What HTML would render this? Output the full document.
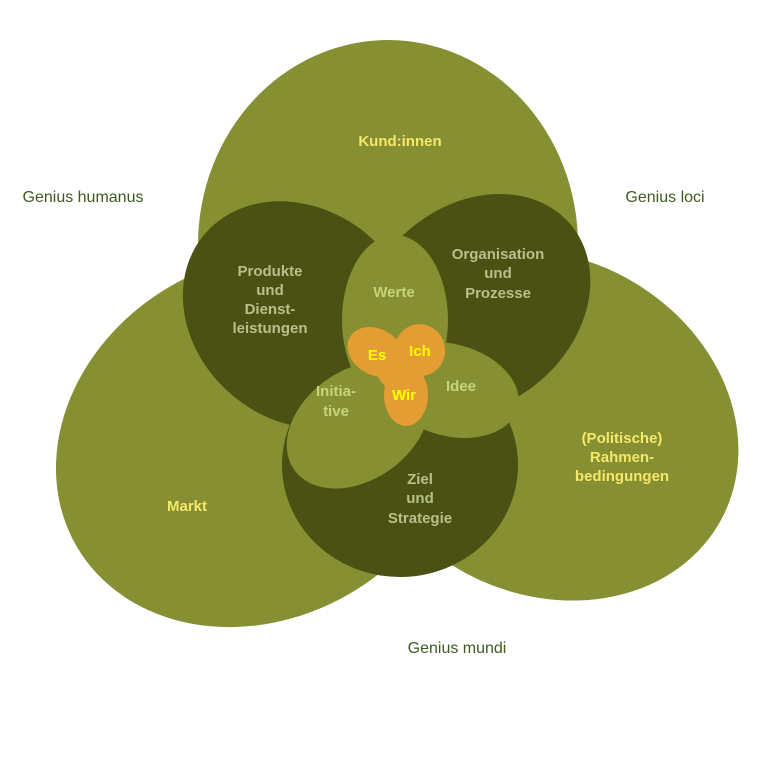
<!DOCTYPE html><html><head><style>body{margin:0;background:#fff}svg{display:block}text{font-family:"Liberation Sans",sans-serif;font-weight:bold;text-anchor:middle}</style></head><body>
<svg width="768" height="768" viewBox="0 0 768 768">
<g fill="#868f31">
<ellipse cx="388" cy="245" rx="190" ry="205"/>
<ellipse cx="260" cy="440" rx="212" ry="178" transform="rotate(-30 260 440)"/>
<ellipse cx="545" cy="425" rx="200" ry="168" transform="rotate(28 545 425)"/>
</g>
<g fill="#4a5113">
<ellipse cx="300" cy="315" rx="125" ry="105" transform="rotate(40 300 315)"/>
<ellipse cx="475" cy="305" rx="125" ry="100" transform="rotate(-40 475 305)"/>
<ellipse cx="400" cy="465" rx="118" ry="112"/>
</g>
<g fill="#868f31">
<ellipse cx="395" cy="320" rx="53" ry="85"/>
<ellipse cx="358" cy="425" rx="78" ry="55" transform="rotate(-35 358 425)"/>
<ellipse cx="450" cy="390" rx="70" ry="46" transform="rotate(15 450 390)"/>
</g>
<g fill="#e39d32">
<ellipse cx="376" cy="352" rx="30" ry="23" transform="rotate(30 376 352)"/>
<ellipse cx="420" cy="350" rx="25" ry="26" transform="rotate(-20 420 350)"/>
<ellipse cx="406" cy="395" rx="22" ry="31"/>
<circle cx="400" cy="367" r="24"/>
</g>
<g font-size="16" fill="#3f5a1e">
<text x="83" y="202" style="font-weight:normal">Genius humanus</text>
<text x="665" y="202" style="font-weight:normal">Genius loci</text>
<text x="457" y="653" style="font-weight:normal">Genius mundi</text>
</g>
<g font-size="15" fill="#f5e86a">
<text x="400" y="146">Kund:innen</text>
<text x="187" y="511">Markt</text>
<text x="622" y="443">(Politische)</text><text x="622" y="462">Rahmen-</text><text x="622" y="481">bedingungen</text>
</g>
<g font-size="15" fill="#b7c08a">
<text x="270" y="276">Produkte</text><text x="270" y="295">und</text><text x="270" y="314">Dienst-</text><text x="270" y="333">leistungen</text>
<text x="498" y="259">Organisation</text><text x="498" y="278">und</text><text x="498" y="298">Prozesse</text>
<text x="420" y="484">Ziel</text><text x="420" y="503">und</text><text x="420" y="523">Strategie</text>
</g>
<g font-size="15" fill="#c9d27c">
<text x="394" y="297">Werte</text>
<text x="336" y="396">Initia-</text><text x="336" y="416">tive</text>
<text x="461" y="391">Idee</text>
</g>
<g font-size="15" fill="#ffff00">
<text x="377" y="360">Es</text><text x="420" y="356">Ich</text><text x="404" y="400">Wir</text>
</g>
</svg></body></html>
